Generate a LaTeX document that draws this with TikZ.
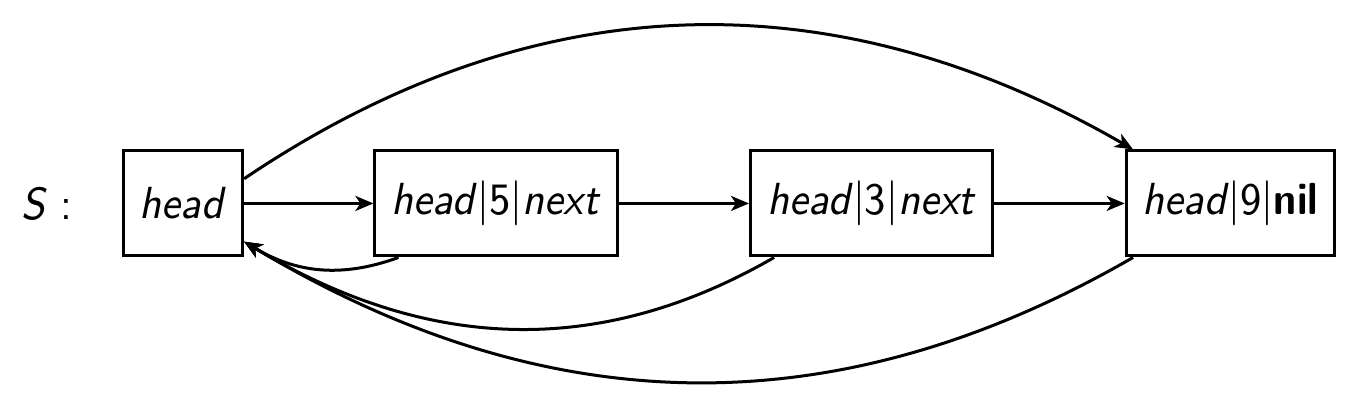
\documentclass[tikz,border=0pt]{standalone}
\usepackage{amsmath,amssymb}
\usepackage{graphicx}
\usepackage{tikz}
\usetikzlibrary{arrows.meta}
\newcommand{\nar}[1]{\scalebox{0.92}[1]{#1}}
\newcommand{\lcell}[2]{\nar{\textit{head}$|$#1$|$#2}}

\begin{document}
\begin{tikzpicture}[font=\sffamily\fontsize{9}{11}\selectfont, semithick, >={Stealth[length=3.6pt, width=3pt, inset=1pt]}, box/.style={draw, minimum height=21pt}]
        \useasboundingbox (0, 0) rectangle (9.531, 2.938);
        \node (S) at (0.330, 1.504) {\nar{\textit{S} :}};
        \node [box] (HD) at (1.286, 1.508) {\nar{\textit{head}}};
        \node [box] (N5) at (3.486, 1.508) {\lcell{5}{\textit{next}}};
        \node [box] (N3) at (6.126, 1.508) {\lcell{3}{\textit{next}}};
        \node [box] (N9) at (8.649, 1.508) {\lcell{9}{\textbf{nil}}};
        \draw [->] (HD) -- (N5);
        \draw [->] (N5) -- (N3);
        \draw [->] (N3) -- (N9);
        \draw [->] (HD.22) to [out=34, in=150] (N9.151);
        \draw [->] (N5.209) to [out=200, in=-31] (HD.-32);
        \draw [->] (N3.209) to [out=210, in=-31] (HD.-32);
        \draw [->] (N9.209) to [out=210, in=-31] (HD.-32);
\end{tikzpicture}
\end{document}
